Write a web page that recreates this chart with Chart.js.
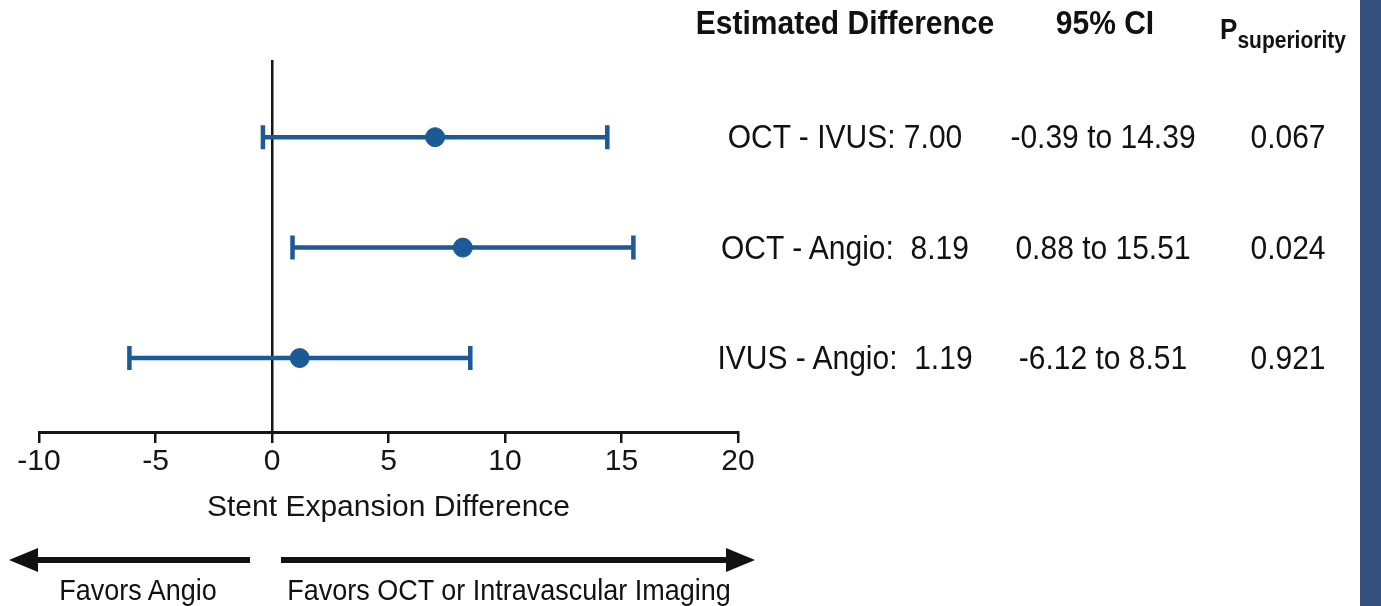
<!DOCTYPE html>
<html>
<head>
<meta charset="utf-8">
<script src="https://cdn.jsdelivr.net/npm/chart.js@4"></script>
<style>
  html, body { margin:0; padding:0; background:#fff; }
  body { width:1381px; height:606px; position:relative; overflow:hidden;
         font-family:"Liberation Sans", Arial, Helvetica, sans-serif; color:#111; }
  #chartbox { position:absolute; left:0; top:0; width:780px; height:606px; }
  .cell { position:absolute; transform:translate(-50%,-50%) scaleY(1.1); white-space:pre; font-size:30px; line-height:1; }
  .hdr { font-weight:bold; }
  #sidebar { position:absolute; left:1360px; top:0; width:21px; height:606px; background:#34507d; }
  .favor { position:absolute; font-size:27px; transform:translate(-50%,-50%) scaleY(1.08); white-space:pre; line-height:1; }
</style>
</head>
<body>
<div id="chartbox"><canvas id="c"></canvas></div>
<svg id="arrows" width="780" height="606" style="position:absolute;left:0;top:0;pointer-events:none">
  <line x1="34" y1="560" x2="250" y2="560" stroke="#111" stroke-width="6"/>
  <polygon points="9,560 38,548 38,572" fill="#111"/>
  <line x1="281" y1="560" x2="730" y2="560" stroke="#111" stroke-width="6"/>
  <polygon points="755,560 726,548 726,572" fill="#111"/>
</svg>
<div class="favor" style="left:138px;top:591px">Favors Angio</div>
<div class="favor" style="left:509px;top:591px">Favors OCT or Intravascular Imaging</div>
<div id="table"></div>
<div id="sidebar"></div>
<script>
// ---- data ----
const comparisons = ['OCT - IVUS:', 'OCT - Angio: ', 'IVUS - Angio: '];
const estimates = [7.00, 8.19, 1.19];
const ciLower = [-0.39, 0.88, -6.12];
const ciUpper = [14.39, 15.51, 8.51];
const pSuperiority = ['0.067', '0.024', '0.921'];
const xTicks = [-10, -5, 0, 5, 10, 15, 20];
const headers = ['Estimated Difference', '95% CI', 'P'];
const xTitle = 'Stent Expansion Difference';

const BLUE = '#1c5a97';
const INK = '#151515';

const errorBars = {
  id: 'errorBars',
  beforeDatasetsDraw(chart) {
    const ctx = chart.ctx, xs = chart.scales.x, ys = chart.scales.y;
    ctx.save();
    ctx.strokeStyle = BLUE;
    ctx.lineWidth = 4.5;
    ctx.lineCap = 'butt';
    estimates.forEach((v, i) => {
      const y = ys.getPixelForValue(i);
      const x1 = xs.getPixelForValue(ciLower[i]);
      const x2 = xs.getPixelForValue(ciUpper[i]);
      ctx.beginPath();
      ctx.moveTo(x1, y); ctx.lineTo(x2, y);
      ctx.moveTo(x1, y - 12); ctx.lineTo(x1, y + 12);
      ctx.moveTo(x2, y - 12); ctx.lineTo(x2, y + 12);
      ctx.stroke();
    });
    ctx.restore();
  }
};

const chart = new Chart(document.getElementById('c'), {
  type: 'scatter',
  data: {
    datasets: [{
      data: estimates.map((v, i) => ({ x: v, y: i })),
      backgroundColor: BLUE,
      borderColor: BLUE,
      pointRadius: 9.5,
      pointHoverRadius: 9.5
    }]
  },
  options: {
    responsive: true,
    maintainAspectRatio: false,
    animation: false,
    events: [],
    layout: { padding: { left: 39, right: 42, top: 61, bottom: 80 } },
    plugins: { legend: { display: false }, tooltip: { enabled: false } },
    scales: {
      x: {
        type: 'linear',
        min: -10, max: 20,
        afterBuildTicks: (s) => { s.ticks = xTicks.map(v => ({ value: v })); },
        ticks: { font: { size: 30, family: '"Liberation Sans", Arial, sans-serif' }, color: INK, padding: 1 },
        grid: { display: true, drawOnChartArea: false, drawTicks: true, tickLength: 11, lineWidth: 2.5, color: INK },
        border: { display: true, width: 3, color: INK },
        title: { display: true, text: xTitle, color: INK,
                 font: { size: 30, family: '"Liberation Sans", Arial, sans-serif' },
                 padding: { top: 9, bottom: 0 } }
      },
      y: {
        type: 'linear',
        position: { x: 0 },
        reverse: true,
        min: -0.69, max: 2.67,
        z: 1,
        ticks: { display: false },
        grid: { display: false },
        border: { display: true, width: 2.5, color: INK }
      }
    }
  },
  plugins: [errorBars]
});

// ---- table on the right, rows aligned with the chart's y scale ----
const table = document.getElementById('table');
function addCell(text, x, y, cls) {
  const d = document.createElement('div');
  d.className = 'cell' + (cls ? ' ' + cls : '');
  d.style.left = x + 'px';
  d.style.top = y + 'px';
  d.textContent = text;
  table.appendChild(d);
  return d;
}
addCell(headers[0], 845, 23, 'hdr');
addCell(headers[1], 1105, 23, 'hdr');
const p = addCell('', 1283, 28, 'hdr');
p.innerHTML = '<span style="font-size:26px">' + headers[2] + '</span><span style="font-size:21px;position:relative;top:8px">superiority</span>';
const ys = chart.scales.y;
estimates.forEach((v, i) => {
  const y = ys.getPixelForValue(i);
  addCell(comparisons[i] + ' ' + v.toFixed(2), 845, y);
  addCell(ciLower[i].toFixed(2) + ' to ' + ciUpper[i].toFixed(2), 1103, y);
  addCell(pSuperiority[i], 1288, y);
});
</script>
</body>
</html>
